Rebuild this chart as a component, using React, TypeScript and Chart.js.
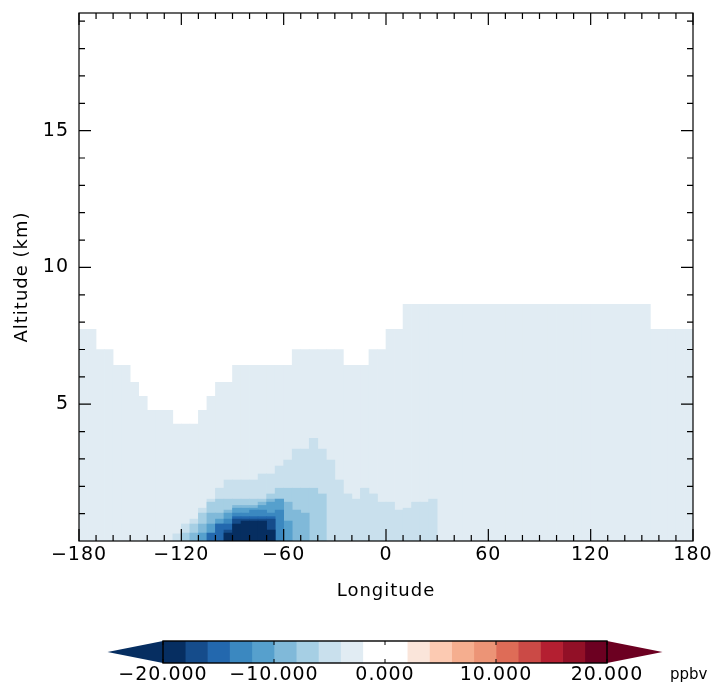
import React, { useEffect, useRef } from "react";
import { Chart, registerables } from "chart.js";

Chart.register(...registerables);

const FONT = "'DejaVu Sans', 'Liberation Sans', sans-serif";

// Longitude cell centres (5 degree cells)
const lonCenters = [
  -177.5, -172.5, -167.5, -162.5, -157.5, -152.5, -147.5, -142.5, -137.5, -132.5,
  -127.5, -122.5, -117.5, -112.5, -107.5, -102.5, -97.5, -92.5, -87.5, -82.5,
  -77.5, -72.5, -67.5, -62.5, -57.5, -52.5, -47.5, -42.5, -37.5, -32.5,
  -27.5, -22.5, -17.5, -12.5, -7.5, -2.5, 2.5, 7.5, 12.5, 17.5,
  22.5, 27.5, 32.5, 37.5, 42.5, 47.5, 52.5, 57.5, 62.5, 67.5,
  72.5, 77.5, 82.5, 87.5, 92.5, 97.5, 102.5, 107.5, 112.5, 117.5,
  122.5, 127.5, 132.5, 137.5, 142.5, 147.5, 152.5, 157.5, 162.5, 167.5,
  172.5, 177.5,
];

// Top altitude (km) of the -4..-2 ppbv region in each column
const band1Top = [
  7.74, 7.74, 7.0, 7.0, 6.42, 6.42, 5.8, 5.29, 4.78, 4.78,
  4.78, 4.27, 4.27, 4.27, 4.78, 5.29, 5.8, 5.8, 6.42, 6.42,
  6.42, 6.42, 6.42, 6.42, 6.42, 7.0, 7.0, 7.0, 7.0, 7.0,
  7.0, 6.42, 6.42, 6.42, 7.0, 7.0, 7.74, 7.74, 8.65, 8.65,
  8.65, 8.65, 8.65, 8.65, 8.65, 8.65, 8.65, 8.65, 8.65, 8.65,
  8.65, 8.65, 8.65, 8.65, 8.65, 8.65, 8.65, 8.65, 8.65, 8.65,
  8.65, 8.65, 8.65, 8.65, 8.65, 8.65, 8.65, 7.74, 7.74, 7.74,
  7.74, 7.74,
];

// Columns of the perturbation core (-125 to 30 E)
const coreLons = [
  -122.5, -117.5, -112.5, -107.5, -102.5, -97.5, -92.5, -87.5, -82.5, -77.5,
  -72.5, -67.5, -62.5, -57.5, -52.5, -47.5, -42.5, -37.5, -32.5, -27.5,
  -22.5, -17.5, -12.5, -7.5, -2.5, 2.5, 7.5, 12.5, 17.5, 22.5,
  27.5,
];

// Top altitudes (km) of deeper bands in the core columns (null = absent)
const band2Top = [
  0.26, 0.62, 0.8, 1.2, 1.53, 1.93, 2.23, 2.23, 2.23, 2.23,
  2.45, 2.45, 2.74, 2.96, 3.36, 3.36, 3.75, 3.36, 2.96, 2.23,
  1.72, 1.53, 1.93, 1.72, 1.42, 1.42, 1.13, 1.2, 1.42, 1.42,
  1.53,
];
const band3Top = [
  null, 0.29, 0.62, 1.02, 1.42, 1.53, 1.53, 1.53, 1.53, 1.53,
  1.53, 1.72, 1.93, 1.93, 1.93, 1.93, 1.93, 1.72, null, null,
  null, null, null, null, null, null, null, null, null, null,
  null,
];
const band4Top = [
  null, null, 0.29, 0.62, 1.02, 1.02, 1.13, 1.3, 1.3, 1.3,
  1.42, 1.53, 1.53, 1.42, 1.13, 1.02, null, null, null, null,
  null, null, null, null, null, null, null, null, null, null,
  null,
];
const band5Top = [
  null, null, null, 0.29, 0.62, 0.8, 1.02, 1.2, 1.2, 1.2,
  1.3, 1.42, 1.53, 0.73, null, null, null, null, null, null,
  null, null, null, null, null, null, null, null, null, null,
  null,
];
const band6Top = [
  null, null, null, null, null, 0.62, 0.8, 1.02, 1.02, 1.13,
  1.13, 1.02, 1.13, null, null, null, null, null, null, null,
  null, null, null, null, null, null, null, null, null, null,
  null,
];
const band7Top = [
  null, null, null, null, 0.29, 0.62, 0.62, 0.89, 0.89, 0.89,
  0.89, 0.89, null, null, null, null, null, null, null, null,
  null, null, null, null, null, null, null, null, null, null,
  null,
];
const band8Top = [
  null, null, null, null, null, null, 0.4, 0.8, 0.8, 0.8,
  0.8, 0.8, null, null, null, null, null, null, null, null,
  null, null, null, null, null, null, null, null, null, null,
  null,
];
const band9Top = [
  null, null, null, null, null, null, 0.29, 0.62, 0.73, 0.73,
  0.73, 0.4, null, null, null, null, null, null, null, null,
  null, null, null, null, null, null, null, null, null, null,
  null,
];

const bandColors = [
  "#e1ecf3", "#c9e0ed", "#a6cfe4", "#80b9d9", "#56a0cd",
  "#3b88c0", "#2368ae", "#154c8b", "#062e61",
];

// Colour bar
const cbLevels = [-20, -18, -16, -14, -12, -10, -8, -6, -4, -2, 0, 2, 4, 6, 8, 10, 12, 14, 16, 18, 20];
const cbColors = [
  "#062e61", "#154c8b", "#2368ae", "#3b88c0", "#56a0cd",
  "#80b9d9", "#a6cfe4", "#c9e0ed", "#e1ecf3", "#ffffff",
  "#ffffff", "#fae5da", "#fccab2", "#f5ae8f", "#ec9476",
  "#de6c57", "#cb4a46", "#b41f31", "#921027", "#6c0021",
];
const cbLowColor = "#062e61";
const cbHighColor = "#6c0021";
const cbTickLabels = [-20, -10, 0, 10, 20];
const cbUnits = "ppbv";

const xTickLabels = [-180, -120, -60, 0, 60, 120, 180];
const yTickLabels = [5, 10, 15];

const minus = (v: number, s: string) => (v < 0 ? "\u2212" + s : s);

function barSet(lons: number[], tops: (number | null)[], color: string, order: number) {
  const data: any[] = [];
  lons.forEach((x, i) => {
    const t = tops[i];
    if (t != null) data.push({ x, y: [0, t] });
  });
  return {
    type: "bar" as const,
    data,
    order,
    backgroundColor: color,
    borderWidth: 0,
    grouped: false,
    barPercentage: 1,
    categoryPercentage: 1,
  };
}

const zeroPad = (s: any) => {
  s.paddingTop = 0;
  s.paddingBottom = 0;
  s.paddingLeft = 0;
  s.paddingRight = 0;
};

const framePlugin = {
  id: "frameTicks",
  beforeDraw(chart: any) {
    chart.ctx.letterSpacing = "1px";
  },
  afterDatasetsDraw(chart: any) {
    const { ctx, chartArea: a, scales } = chart;
    const xs = scales.x;
    const ys = scales.y;
    ctx.save();
    ctx.strokeStyle = "#000";
    ctx.lineWidth = 1.2;
    ctx.beginPath();
    for (let v = -180; v <= 180; v += 10) {
      const px = xs.getPixelForValue(v);
      const len = xTickLabels.includes(v) ? 12 : 6;
      ctx.moveTo(px, a.bottom);
      ctx.lineTo(px, a.bottom - len);
      ctx.moveTo(px, a.top);
      ctx.lineTo(px, a.top + len);
    }
    for (let v = 1; v < ys.max; v += 1) {
      const py = ys.getPixelForValue(v);
      const len = yTickLabels.includes(v) ? 12 : 6;
      ctx.moveTo(a.left, py);
      ctx.lineTo(a.left + len, py);
      ctx.moveTo(a.right, py);
      ctx.lineTo(a.right - len, py);
    }
    ctx.stroke();
    ctx.strokeRect(a.left, a.top, a.right - a.left, a.bottom - a.top);
    ctx.restore();
  },
};

const cbPlugin = {
  id: "cbFrame",
  beforeDraw(chart: any) {
    chart.ctx.letterSpacing = "1px";
  },
  afterDatasetsDraw(chart: any) {
    const { ctx, chartArea: a, scales } = chart;
    const xs = scales.x;
    const l = xs.getPixelForValue(-20);
    const r = xs.getPixelForValue(20);
    const tipL = xs.getPixelForValue(-25);
    const tipR = xs.getPixelForValue(25);
    const mid = (a.top + a.bottom) / 2;
    ctx.save();
    ctx.fillStyle = cbLowColor;
    ctx.beginPath();
    ctx.moveTo(l, a.top);
    ctx.lineTo(tipL, mid);
    ctx.lineTo(l, a.bottom);
    ctx.closePath();
    ctx.fill();
    ctx.fillStyle = cbHighColor;
    ctx.beginPath();
    ctx.moveTo(r, a.top);
    ctx.lineTo(tipR, mid);
    ctx.lineTo(r, a.bottom);
    ctx.closePath();
    ctx.fill();
    ctx.strokeStyle = "#000";
    ctx.lineWidth = 1.4;
    ctx.strokeRect(l, a.top, r - l, a.bottom - a.top);
    ctx.lineWidth = 1;
    ctx.beginPath();
    cbTickLabels.forEach((v) => {
      const px = xs.getPixelForValue(v);
      ctx.moveTo(px, a.top);
      ctx.lineTo(px, a.top + 4);
      ctx.moveTo(px, a.bottom);
      ctx.lineTo(px, a.bottom - 4);
    });
    ctx.stroke();
    ctx.fillStyle = "#000";
    ctx.letterSpacing = "0px";
    ctx.font = `15px ${FONT}`;
    ctx.textAlign = "left";
    ctx.textBaseline = "middle";
    ctx.fillText(cbUnits, 670, 45);
    ctx.restore();
  },
};

export default function App() {
  const mainRef = useRef<HTMLCanvasElement>(null);
  const cbRef = useRef<HTMLCanvasElement>(null);

  useEffect(() => {
    const tops = [band1Top, band2Top, band3Top, band4Top, band5Top, band6Top, band7Top, band8Top, band9Top];
    const datasets: any[] = tops.map((t, k) =>
      barSet(k === 0 ? lonCenters : coreLons, t, bandColors[k], tops.length - k)
    );

    const main = new Chart(mainRef.current as HTMLCanvasElement, {
      type: "bar",
      data: { datasets },
      options: {
        responsive: false,
        animation: false,
        events: [],
        layout: { padding: { top: 13, right: 30, left: 0, bottom: 0 } },
        plugins: { legend: { display: false }, tooltip: { enabled: false } },
        scales: {
          x: {
            type: "linear",
            min: -180,
            max: 180,
            offset: false,
            grid: { display: false, drawTicks: false, offset: false },
            border: { display: false },
            afterBuildTicks: (s: any) => {
              s.ticks = xTickLabels.map((v) => ({ value: v }));
            },
            afterFit: (s: any) => {
              s.height = 142;
              zeroPad(s);
            },
            ticks: {
              autoSkip: false,
              maxRotation: 0,
              padding: 5,
              color: "#000",
              font: { family: FONT, size: 19, lineHeight: 1 },
              callback: (v: any) => minus(Number(v), String(Math.abs(Number(v)))),
            },
            title: {
              display: true,
              text: "Longitude",
              color: "#000",
              font: { family: FONT, size: 18, lineHeight: 1 },
              padding: 83,
            },
          },
          y: {
            type: "linear",
            min: 0,
            max: 19.3,
            grid: { display: false, drawTicks: false },
            border: { display: false },
            afterBuildTicks: (s: any) => {
              s.ticks = yTickLabels.map((v) => ({ value: v }));
            },
            afterFit: (s: any) => {
              s.width = 79;
              zeroPad(s);
            },
            ticks: {
              padding: 10,
              color: "#000",
              font: { family: FONT, size: 19, lineHeight: 1 },
            },
            title: {
              display: true,
              text: "Altitude (km)",
              color: "#000",
              font: { family: FONT, size: 18, lineHeight: 1 },
              padding: 13,
            },
          },
        },
      } as any,
      plugins: [framePlugin],
    });

    const cb = new Chart(cbRef.current as HTMLCanvasElement, {
      type: "bar",
      data: {
        labels: ["cb"],
        datasets: cbColors.map((c, i) => ({
          data: [[cbLevels[i], cbLevels[i + 1]]],
          backgroundColor: c,
          borderWidth: 0,
          grouped: false,
          barPercentage: 1,
          categoryPercentage: 1,
        })) as any,
      },
      options: {
        indexAxis: "y",
        responsive: false,
        animation: false,
        events: [],
        layout: { padding: { top: 11, right: 116, left: 163, bottom: 0 } },
        plugins: { legend: { display: false }, tooltip: { enabled: false } },
        scales: {
          y: { type: "category", display: false },
          x: {
            type: "linear",
            min: -20,
            max: 20,
            grid: { display: false, drawTicks: false },
            border: { display: false },
            afterBuildTicks: (s: any) => {
              s.ticks = cbTickLabels.map((v) => ({ value: v }));
            },
            afterFit: (s: any) => {
              s.height = 20;
              zeroPad(s);
            },
            ticks: {
              autoSkip: false,
              maxRotation: 0,
              padding: 3,
              color: "#000",
              font: { family: FONT, size: 19, lineHeight: 1 },
              callback: (v: any) => minus(Number(v), Math.abs(Number(v)).toFixed(3)),
            },
          },
        },
      } as any,
      plugins: [cbPlugin],
    });

    return () => {
      main.destroy();
      cb.destroy();
    };
  }, []);

  return (
    <div style={{ position: "absolute", left: 0, top: 0, width: 723, height: 683, background: "#fff" }}>
      <canvas ref={mainRef} width={723} height={683} style={{ position: "absolute", left: 0, top: 0 }} />
      <canvas ref={cbRef} width={723} height={53} style={{ position: "absolute", left: 0, top: 630 }} />
    </div>
  );
}
